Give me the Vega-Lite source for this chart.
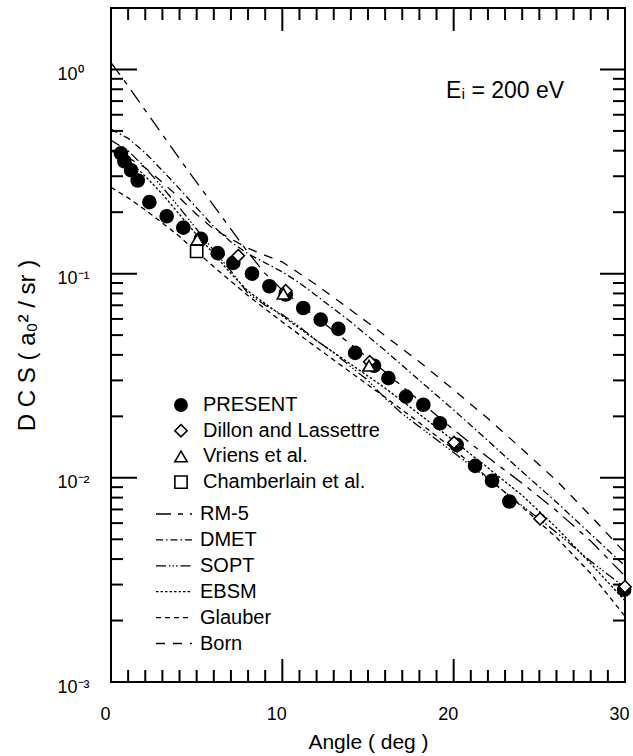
{
  "$schema": "https://vega.github.io/schema/vega-lite/v6.json",
  "width": 514,
  "height": 674,
  "autosize": {"type": "none"},
  "padding": {"left": 111, "top": 8, "right": 8, "bottom": 74},
  "background": "white",
  "config": {
    "view": {"stroke": "black", "strokeWidth": 2},
    "font": "Liberation Sans",
    "axis": {
      "domain": false,
      "ticks": false,
      "tickSize": 0,
      "grid": false,
      "labelColor": "black",
      "titleColor": "black",
      "titleFontWeight": "normal",
      "labelFont": "Liberation Sans",
      "titleFont": "Liberation Sans",
      "labelOverlap": false,
      "labelFlush": false
    },
    "legend": {
      "labelFont": "Liberation Sans",
      "labelColor": "black",
      "labelFontSize": 20,
      "labelLimit": 400,
      "padding": 0,
      "title": null
    }
  },
  "datasets": {
    "measured": [
      {"source": "PRESENT", "angle": 0.58, "dcs": 0.388},
      {"source": "PRESENT", "angle": 0.78, "dcs": 0.355},
      {"source": "PRESENT", "angle": 1.17, "dcs": 0.321},
      {"source": "PRESENT", "angle": 1.56, "dcs": 0.286},
      {"source": "PRESENT", "angle": 2.24, "dcs": 0.224},
      {"source": "PRESENT", "angle": 3.25, "dcs": 0.191},
      {"source": "PRESENT", "angle": 4.22, "dcs": 0.168},
      {"source": "PRESENT", "angle": 5.25, "dcs": 0.148},
      {"source": "PRESENT", "angle": 6.23, "dcs": 0.126},
      {"source": "PRESENT", "angle": 7.14, "dcs": 0.113},
      {"source": "PRESENT", "angle": 8.23, "dcs": 0.100},
      {"source": "PRESENT", "angle": 9.24, "dcs": 0.0867},
      {"source": "PRESENT", "angle": 10.2, "dcs": 0.079},
      {"source": "PRESENT", "angle": 11.22, "dcs": 0.0679},
      {"source": "PRESENT", "angle": 12.24, "dcs": 0.0595},
      {"source": "PRESENT", "angle": 13.27, "dcs": 0.0536},
      {"source": "PRESENT", "angle": 14.25, "dcs": 0.0409},
      {"source": "PRESENT", "angle": 15.35, "dcs": 0.0354},
      {"source": "PRESENT", "angle": 16.19, "dcs": 0.0308},
      {"source": "PRESENT", "angle": 17.22, "dcs": 0.0250},
      {"source": "PRESENT", "angle": 18.23, "dcs": 0.0228},
      {"source": "PRESENT", "angle": 19.2, "dcs": 0.0185},
      {"source": "PRESENT", "angle": 20.18, "dcs": 0.0145},
      {"source": "PRESENT", "angle": 21.25, "dcs": 0.01145},
      {"source": "PRESENT", "angle": 22.24, "dcs": 0.00967},
      {"source": "PRESENT", "angle": 23.25, "dcs": 0.00766},
      {"source": "PRESENT", "angle": 29.95, "dcs": 0.00283}
    ],
    "earlier": [
      {"source": "Dillon and Lassettre", "angle": 7.43, "dcs": 0.1225},
      {"source": "Dillon and Lassettre", "angle": 10.2, "dcs": 0.0825},
      {"source": "Dillon and Lassettre", "angle": 15.1, "dcs": 0.037},
      {"source": "Dillon and Lassettre", "angle": 20.02, "dcs": 0.0149},
      {"source": "Dillon and Lassettre", "angle": 25.04, "dcs": 0.0063},
      {"source": "Dillon and Lassettre", "angle": 30.0, "dcs": 0.00293},
      {"source": "Vriens et al.", "angle": 5.04, "dcs": 0.147},
      {"source": "Vriens et al.", "angle": 10.06, "dcs": 0.0798},
      {"source": "Vriens et al.", "angle": 15.06, "dcs": 0.0354},
      {"source": "Chamberlain et al.", "angle": 5.0, "dcs": 0.1286}
    ],
    "theory": [
      {"model": "RM-5", "angle": 0, "dcs": 1.08},
      {"model": "RM-5", "angle": 1, "dcs": 0.83},
      {"model": "RM-5", "angle": 2, "dcs": 0.63},
      {"model": "RM-5", "angle": 3, "dcs": 0.48},
      {"model": "RM-5", "angle": 4, "dcs": 0.365},
      {"model": "RM-5", "angle": 5, "dcs": 0.28},
      {"model": "RM-5", "angle": 6, "dcs": 0.215},
      {"model": "RM-5", "angle": 7, "dcs": 0.165},
      {"model": "RM-5", "angle": 8, "dcs": 0.127},
      {"model": "RM-5", "angle": 9, "dcs": 0.1},
      {"model": "RM-5", "angle": 10, "dcs": 0.083},
      {"model": "RM-5", "angle": 11, "dcs": 0.071},
      {"model": "RM-5", "angle": 12, "dcs": 0.061},
      {"model": "RM-5", "angle": 14, "dcs": 0.045},
      {"model": "RM-5", "angle": 16, "dcs": 0.033},
      {"model": "RM-5", "angle": 18, "dcs": 0.0238},
      {"model": "RM-5", "angle": 20, "dcs": 0.0172},
      {"model": "RM-5", "angle": 22, "dcs": 0.0126},
      {"model": "RM-5", "angle": 24, "dcs": 0.0094},
      {"model": "RM-5", "angle": 26, "dcs": 0.0069},
      {"model": "RM-5", "angle": 28, "dcs": 0.0049},
      {"model": "RM-5", "angle": 30, "dcs": 0.0033},
      {"model": "DMET", "angle": 0, "dcs": 0.51},
      {"model": "DMET", "angle": 1, "dcs": 0.46},
      {"model": "DMET", "angle": 2, "dcs": 0.39},
      {"model": "DMET", "angle": 3, "dcs": 0.32},
      {"model": "DMET", "angle": 4, "dcs": 0.26},
      {"model": "DMET", "angle": 5, "dcs": 0.21},
      {"model": "DMET", "angle": 6, "dcs": 0.17},
      {"model": "DMET", "angle": 7, "dcs": 0.143},
      {"model": "DMET", "angle": 8, "dcs": 0.125},
      {"model": "DMET", "angle": 9, "dcs": 0.113},
      {"model": "DMET", "angle": 10, "dcs": 0.102},
      {"model": "DMET", "angle": 11, "dcs": 0.09},
      {"model": "DMET", "angle": 12, "dcs": 0.078},
      {"model": "DMET", "angle": 14, "dcs": 0.058},
      {"model": "DMET", "angle": 16, "dcs": 0.042},
      {"model": "DMET", "angle": 18, "dcs": 0.03},
      {"model": "DMET", "angle": 20, "dcs": 0.0215},
      {"model": "DMET", "angle": 22, "dcs": 0.0152},
      {"model": "DMET", "angle": 24, "dcs": 0.0107},
      {"model": "DMET", "angle": 26, "dcs": 0.0076},
      {"model": "DMET", "angle": 28, "dcs": 0.0053},
      {"model": "DMET", "angle": 30, "dcs": 0.0037},
      {"model": "SOPT", "angle": 0, "dcs": 0.45},
      {"model": "SOPT", "angle": 1, "dcs": 0.40},
      {"model": "SOPT", "angle": 2, "dcs": 0.33},
      {"model": "SOPT", "angle": 3, "dcs": 0.265},
      {"model": "SOPT", "angle": 4, "dcs": 0.21},
      {"model": "SOPT", "angle": 5, "dcs": 0.165},
      {"model": "SOPT", "angle": 6, "dcs": 0.13},
      {"model": "SOPT", "angle": 7, "dcs": 0.103},
      {"model": "SOPT", "angle": 8, "dcs": 0.08},
      {"model": "SOPT", "angle": 9, "dcs": 0.07},
      {"model": "SOPT", "angle": 10, "dcs": 0.063},
      {"model": "SOPT", "angle": 11, "dcs": 0.055},
      {"model": "SOPT", "angle": 12, "dcs": 0.047},
      {"model": "SOPT", "angle": 13, "dcs": 0.041},
      {"model": "SOPT", "angle": 14, "dcs": 0.035},
      {"model": "SOPT", "angle": 15, "dcs": 0.03},
      {"model": "SOPT", "angle": 16, "dcs": 0.0245},
      {"model": "SOPT", "angle": 17, "dcs": 0.0206},
      {"model": "SOPT", "angle": 18, "dcs": 0.0178},
      {"model": "SOPT", "angle": 20, "dcs": 0.0133},
      {"model": "SOPT", "angle": 22, "dcs": 0.0099},
      {"model": "SOPT", "angle": 24, "dcs": 0.0073},
      {"model": "SOPT", "angle": 26, "dcs": 0.0054},
      {"model": "SOPT", "angle": 28, "dcs": 0.0039},
      {"model": "SOPT", "angle": 30, "dcs": 0.0029},
      {"model": "EBSM", "angle": 0, "dcs": 0.40},
      {"model": "EBSM", "angle": 1, "dcs": 0.36},
      {"model": "EBSM", "angle": 2, "dcs": 0.30},
      {"model": "EBSM", "angle": 3, "dcs": 0.245},
      {"model": "EBSM", "angle": 4, "dcs": 0.195},
      {"model": "EBSM", "angle": 5, "dcs": 0.155},
      {"model": "EBSM", "angle": 6, "dcs": 0.125},
      {"model": "EBSM", "angle": 7, "dcs": 0.1},
      {"model": "EBSM", "angle": 8, "dcs": 0.082},
      {"model": "EBSM", "angle": 10, "dcs": 0.062},
      {"model": "EBSM", "angle": 12, "dcs": 0.047},
      {"model": "EBSM", "angle": 14, "dcs": 0.036},
      {"model": "EBSM", "angle": 16, "dcs": 0.0275},
      {"model": "EBSM", "angle": 18, "dcs": 0.0205},
      {"model": "EBSM", "angle": 20, "dcs": 0.0152},
      {"model": "EBSM", "angle": 22, "dcs": 0.0112},
      {"model": "EBSM", "angle": 24, "dcs": 0.0082},
      {"model": "EBSM", "angle": 26, "dcs": 0.0057},
      {"model": "EBSM", "angle": 28, "dcs": 0.0038},
      {"model": "EBSM", "angle": 30, "dcs": 0.0025},
      {"model": "Glauber", "angle": 0, "dcs": 0.265},
      {"model": "Glauber", "angle": 1, "dcs": 0.235},
      {"model": "Glauber", "angle": 2, "dcs": 0.205},
      {"model": "Glauber", "angle": 3, "dcs": 0.177},
      {"model": "Glauber", "angle": 4, "dcs": 0.152},
      {"model": "Glauber", "angle": 5, "dcs": 0.128},
      {"model": "Glauber", "angle": 6, "dcs": 0.108},
      {"model": "Glauber", "angle": 8, "dcs": 0.078},
      {"model": "Glauber", "angle": 10, "dcs": 0.058},
      {"model": "Glauber", "angle": 12, "dcs": 0.0435},
      {"model": "Glauber", "angle": 14, "dcs": 0.0328},
      {"model": "Glauber", "angle": 16, "dcs": 0.0248},
      {"model": "Glauber", "angle": 18, "dcs": 0.0186},
      {"model": "Glauber", "angle": 20, "dcs": 0.0138},
      {"model": "Glauber", "angle": 22, "dcs": 0.01},
      {"model": "Glauber", "angle": 24, "dcs": 0.0072},
      {"model": "Glauber", "angle": 26, "dcs": 0.0051},
      {"model": "Glauber", "angle": 28, "dcs": 0.0034},
      {"model": "Glauber", "angle": 30, "dcs": 0.0021},
      {"model": "Born", "angle": 0, "dcs": 0.40},
      {"model": "Born", "angle": 1, "dcs": 0.37},
      {"model": "Born", "angle": 2, "dcs": 0.33},
      {"model": "Born", "angle": 3, "dcs": 0.28},
      {"model": "Born", "angle": 4, "dcs": 0.235},
      {"model": "Born", "angle": 5, "dcs": 0.195},
      {"model": "Born", "angle": 6, "dcs": 0.165},
      {"model": "Born", "angle": 7, "dcs": 0.148},
      {"model": "Born", "angle": 8, "dcs": 0.133},
      {"model": "Born", "angle": 9, "dcs": 0.123},
      {"model": "Born", "angle": 10, "dcs": 0.114},
      {"model": "Born", "angle": 12, "dcs": 0.088},
      {"model": "Born", "angle": 15, "dcs": 0.0575},
      {"model": "Born", "angle": 18, "dcs": 0.037},
      {"model": "Born", "angle": 20, "dcs": 0.027},
      {"model": "Born", "angle": 22, "dcs": 0.0195},
      {"model": "Born", "angle": 24, "dcs": 0.0138},
      {"model": "Born", "angle": 26, "dcs": 0.0097},
      {"model": "Born", "angle": 28, "dcs": 0.0065},
      {"model": "Born", "angle": 30, "dcs": 0.0043}
    ],
    "angleTicks": [
      {"angle": 0}, {"angle": 1}, {"angle": 2}, {"angle": 3}, {"angle": 4}, {"angle": 5},
      {"angle": 6}, {"angle": 7}, {"angle": 8}, {"angle": 9}, {"angle": 10}, {"angle": 11},
      {"angle": 12}, {"angle": 13}, {"angle": 14}, {"angle": 15}, {"angle": 16}, {"angle": 17},
      {"angle": 18}, {"angle": 19}, {"angle": 20}, {"angle": 21}, {"angle": 22}, {"angle": 23},
      {"angle": 24}, {"angle": 25}, {"angle": 26}, {"angle": 27}, {"angle": 28}, {"angle": 29},
      {"angle": 30}
    ],
    "dcsTicks": [
      {"dcs": 0.001}, {"dcs": 0.002}, {"dcs": 0.003}, {"dcs": 0.004}, {"dcs": 0.005},
      {"dcs": 0.006}, {"dcs": 0.007}, {"dcs": 0.008}, {"dcs": 0.009},
      {"dcs": 0.01}, {"dcs": 0.02}, {"dcs": 0.03}, {"dcs": 0.04}, {"dcs": 0.05},
      {"dcs": 0.06}, {"dcs": 0.07}, {"dcs": 0.08}, {"dcs": 0.09},
      {"dcs": 0.1}, {"dcs": 0.2}, {"dcs": 0.3}, {"dcs": 0.4}, {"dcs": 0.5},
      {"dcs": 0.6}, {"dcs": 0.7}, {"dcs": 0.8}, {"dcs": 0.9},
      {"dcs": 1}, {"dcs": 2}
    ],
    "note": [{"angle": 23.0, "dcs": 0.78, "text": "Eᵢ = 200 eV"}]
  },
  "layer": [
    {
      "data": {"name": "theory"},
      "mark": {"type": "line", "color": "black", "strokeWidth": 1.3, "clip": true},
      "encoding": {
        "x": {
          "field": "angle", "type": "quantitative",
          "scale": {"domain": [0, 30], "nice": false, "zero": false},
          "axis": {
            "orient": "bottom",
            "values": [0, 10, 20, 30],
            "labelFontSize": 18,
            "labelPadding": 23,
            "labelOffset": -6,
            "title": "Angle ( deg )",
            "titleFontSize": 21,
            "titlePadding": 8
          }
        },
        "y": {
          "field": "dcs", "type": "quantitative",
          "scale": {"type": "log", "domain": [0.001, 2], "nice": false},
          "axis": {
            "orient": "left",
            "values": [0.001, 0.01, 0.1, 1],
            "labelExpr": "datum.value == 1 ? '10⁰' : datum.value == 0.1 ? '10⁻¹' : datum.value == 0.01 ? '10⁻²' : datum.value == 0.001 ? '10⁻³' : ''",
            "labelFontSize": 18,
            "labelAlign": "left",
            "labelBaseline": "middle",
            "labelPadding": 54,
            "labelOffset": 5,
            "title": "D C S  ( a₀² / sr )",
            "titleFontSize": 24,
            "titlePadding": 18
          }
        },
        "strokeDash": {
          "field": "model", "type": "nominal",
          "scale": {
            "domain": ["RM-5", "DMET", "SOPT", "EBSM", "Glauber", "Born"],
            "range": [[15, 7, 5, 7], [7, 3, 1.5, 3], [10, 3, 1.5, 2, 1.5, 2, 1.5, 3], [2.5, 2], [5, 4], [9, 8]]
          },
          "legend": {
            "orient": "none",
            "legendX": 53,
            "legendY": 496,
            "symbolType": "M-3,0H3",
            "symbolSize": 144,
            "symbolFillColor": "transparent",
            "symbolStrokeColor": "black",
            "symbolStrokeWidth": 1.3,
            "rowPadding": 5.9,
            "labelOffset": 16
          }
        }
      }
    },
    {
      "data": {"name": "angleTicks"},
      "mark": {"type": "tick", "orient": "vertical", "color": "black", "thickness": 2, "opacity": 1, "clip": true},
      "encoding": {
        "x": {"field": "angle", "type": "quantitative", "axis": null},
        "y": {"datum": 0.001, "type": "quantitative", "axis": null},
        "size": {"condition": {"test": "datum.angle === 10 || datum.angle === 20", "value": 46}, "value": 24}
      }
    },
    {
      "data": {"name": "angleTicks"},
      "mark": {"type": "tick", "orient": "vertical", "color": "black", "thickness": 2, "opacity": 1, "clip": true},
      "encoding": {
        "x": {"field": "angle", "type": "quantitative", "axis": null},
        "y": {"datum": 2, "type": "quantitative", "axis": null},
        "size": {"condition": {"test": "datum.angle === 10 || datum.angle === 20", "value": 46}, "value": 24}
      }
    },
    {
      "data": {"name": "dcsTicks"},
      "mark": {"type": "tick", "orient": "horizontal", "color": "black", "thickness": 2, "opacity": 1, "clip": true},
      "encoding": {
        "y": {"field": "dcs", "type": "quantitative", "axis": null},
        "x": {"datum": 0, "type": "quantitative", "axis": null},
        "size": {"condition": {"test": "datum.dcs === 1 || datum.dcs === 0.1 || datum.dcs === 0.01", "value": 52}, "value": 24}
      }
    },
    {
      "data": {"name": "dcsTicks"},
      "mark": {"type": "tick", "orient": "horizontal", "color": "black", "thickness": 2, "opacity": 1, "clip": true},
      "encoding": {
        "y": {"field": "dcs", "type": "quantitative", "axis": null},
        "x": {"datum": 30, "type": "quantitative", "axis": null},
        "size": {"condition": {"test": "datum.dcs === 1 || datum.dcs === 0.1 || datum.dcs === 0.01", "value": 50}, "value": 24}
      }
    },
    {
      "data": {"name": "measured"},
      "mark": {"type": "point", "filled": true, "strokeWidth": 1.6, "opacity": 1},
      "encoding": {
        "x": {"field": "angle", "type": "quantitative", "axis": null},
        "y": {"field": "dcs", "type": "quantitative", "axis": null},
        "shape": {
          "field": "source", "type": "nominal",
          "scale": {
            "domain": ["PRESENT", "Dillon and Lassettre", "Vriens et al.", "Chamberlain et al."],
            "range": ["circle", "diamond", "triangle-up", "square"]
          },
          "legend": {
            "orient": "none",
            "legendX": 60,
            "legendY": 387,
            "symbolSize": 150,
            "symbolStrokeWidth": 1.6,
            "rowPadding": 5.7,
            "labelOffset": 12
          }
        },
        "fill": {
          "field": "source", "type": "nominal",
          "scale": {
            "domain": ["PRESENT", "Dillon and Lassettre", "Vriens et al.", "Chamberlain et al."],
            "range": ["black", "white", "white", "white"]
          }
        },
        "stroke": {
          "field": "source", "type": "nominal",
          "scale": {
            "domain": ["PRESENT", "Dillon and Lassettre", "Vriens et al.", "Chamberlain et al."],
            "range": ["black", "black", "black", "black"]
          }
        },
        "size": {"value": 170}
      }
    },
    {
      "data": {"name": "earlier"},
      "mark": {"type": "point", "filled": true, "strokeWidth": 1.6, "opacity": 1},
      "encoding": {
        "x": {"field": "angle", "type": "quantitative", "axis": null},
        "y": {"field": "dcs", "type": "quantitative", "axis": null},
        "shape": {"field": "source", "type": "nominal"},
        "fill": {"field": "source", "type": "nominal"},
        "stroke": {"field": "source", "type": "nominal"},
        "size": {"value": 150}
      }
    },
    {
      "data": {"name": "note"},
      "mark": {"type": "text", "fontSize": 23, "font": "Liberation Sans", "color": "black", "align": "center", "baseline": "middle"},
      "encoding": {
        "x": {"field": "angle", "type": "quantitative", "axis": null},
        "y": {"field": "dcs", "type": "quantitative", "axis": null},
        "text": {"field": "text"}
      }
    }
  ],
  "resolve": {"axis": {"x": "independent", "y": "independent"}}
}
